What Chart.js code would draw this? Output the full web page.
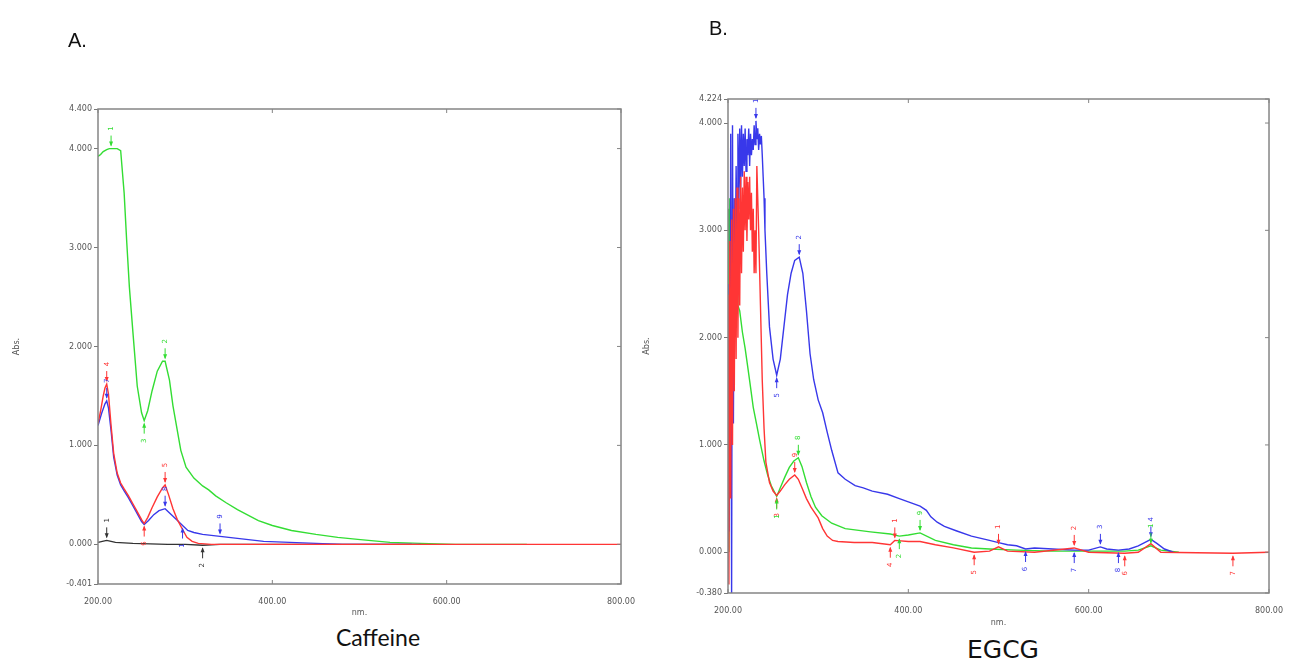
<!DOCTYPE html>
<html>
<head>
<meta charset="utf-8">
<script src="https://cdn.jsdelivr.net/npm/chart.js@4"></script>
<style>
  body { margin: 0; width: 1296px; height: 665px; background: #fff; position: relative; overflow: hidden; }
  #wrapA { position: absolute; left: 0; top: 0; }
  #wrapB { position: absolute; left: 630px; top: 0; }
  .lbl { position: absolute; color: #111; white-space: nowrap; }
</style>
</head>
<body>
<div id="wrapA"><canvas id="chartA" width="648" height="622"></canvas></div>
<div id="wrapB"><canvas id="chartB" width="666" height="632"></canvas></div>
<div class="lbl" style="left:68px;top:29px;font:20px 'Liberation Sans',sans-serif;">A.</div>
<div class="lbl" style="left:709px;top:17px;font:20px 'Liberation Sans',sans-serif;">B.</div>
<div class="lbl" style="left:278px;top:623px;width:200px;text-align:center;font:23px Lato,sans-serif;">Caffeine</div>
<div class="lbl" style="left:903px;top:635px;width:200px;text-align:center;font:25px 'DejaVu Sans',sans-serif;">EGCG</div>
<script>
// axis ticks
const xTicks = [200, 400, 600, 800];
const yTicksA = [-0.401, 0, 1, 2, 3, 4, 4.4];
const yTicksB = [-0.38, 0, 1, 2, 3, 4, 4.224];

// A. Caffeine spectra (nm / Abs.)
const caffGreenNm = [200,203,206,210,213,215,218,222,226,230, 233,236,240,245,250,253,257,262,268,274,
  277,282,286,290,295,301,310,320,327,335, 347,360,384,400,422,450,475,498,535,570, 610,650,692];
const caffGreenAbs = [3.92,3.94,3.97,3.99,4.0,4.0,4.0,4.0,3.98,3.55, 3.05,2.6,2.15,1.6,1.33,1.25,1.35,1.55,1.75,1.85,
  1.85,1.66,1.4,1.2,0.95,0.78,0.67,0.59,0.55,0.49, 0.42,0.35,0.24,0.19,0.14,0.1,0.07,0.05,0.02,0.01, 0.0,0.0,0.0];

const caffRedNm = [200,203,206,208,210,212,215,218,222,226, 230,235,240,245,250,253,257,262,268,274,
  277,281,286,291,297,302,308,315,330,400, 500,600,700,800];
const caffRedAbs = [1.22,1.35,1.5,1.58,1.62,1.52,1.2,0.92,0.72,0.62, 0.56,0.49,0.41,0.33,0.25,0.21,0.27,0.37,0.48,0.57,
  0.6,0.5,0.36,0.25,0.15,0.07,0.03,0.01,0.0,0.0, 0.0,0.0,0.0,0.0];

const caffBlueNm = [200,204,208,210,212,215,218,222,226,230, 235,240,245,250,253,258,264,270,277,283,
  290,297,303,310,320,330,340,350,370,390, 420,450,480,570];
const caffBlueAbs = [1.2,1.32,1.42,1.45,1.38,1.15,0.88,0.7,0.6,0.54, 0.47,0.39,0.31,0.23,0.2,0.24,0.3,0.34,0.36,0.31,
  0.25,0.19,0.14,0.12,0.1,0.09,0.08,0.07,0.05,0.03, 0.02,0.01,0.0,0.0];

const caffBlackNm = [200,205,210,215,220,240,280,300,320,340,400,560];
const caffBlackAbs = [0.02,0.03,0.04,0.03,0.02,0.01,0.0,0.0,-0.01,0.0,0.0,0.0];

// B. EGCG spectra (nm / Abs.)
const egcgBlueNm = [200,201,202,203,204,205,206,207,208,209, 210,211,212,213,214,215,216,217,218,219,
  220,221,222,223,224,225,226,227,228,229, 230,231,232,233,234,235,236,237,238,239,
  240,241,243,246,250,254,258,262,266,270, 274,279,283,287,291,295,300,305,310,315,
  322,330,341,350,360,377,390,400,413,420, 425,432,440,453,470,490,500,510,520,530,
  540,560,584,600,613,620,633,645,655,662, 669,676,684,694];
const egcgBlueAbs = [0.2,2.5,0.8,3.9,-0.38,3.98,1.2,3.3,2.6,3.6, 3.0,3.9,3.2,3.95,3.4,3.98,3.5,3.9,3.6,3.95,
  3.55,3.85,3.7,3.95,3.6,3.9,3.7,3.85,3.75,3.98, 3.8,4.02,3.85,3.95,3.75,3.9,3.8,3.88,3.7,3.5,
  3.3,3.0,2.6,2.1,1.8,1.65,1.8,2.1,2.4,2.6, 2.72,2.75,2.6,2.25,1.85,1.61,1.42,1.3,1.12,0.95,
  0.74,0.68,0.62,0.6,0.57,0.54,0.5,0.47,0.43,0.39, 0.33,0.28,0.24,0.2,0.15,0.11,0.09,0.07,0.06,0.03,
  0.04,0.03,0.02,0.02,0.05,0.03,0.02,0.03,0.06,0.09, 0.12,0.08,0.03,0.0];

const egcgRedNm = [200,201,202,203,204,205,206,207,208,209, 210,211,212,213,214,215,216,217,218,219,
  220,221,222,223,224,225,226,227,228,229, 230,231,232,234,236,238,240,242,246,250,
  254,258,263,268,274,278,282,287,292,300, 305,310,316,322,340,360,380,385,400,413,
  430,450,473,490,500,510,540,584,600,640, 655,669,680,760,800];
const egcgRedAbs = [2.4,-0.3,2.9,0.5,3.1,1.0,3.2,1.5,3.3,1.8, 3.4,2.0,3.3,2.3,3.5,2.6,3.4,2.8,3.55,3.0,
  3.5,2.9,3.45,3.1,3.5,3.0,3.35,2.8,3.2,2.6, 3.0,2.6,3.6,3.0,2.3,1.6,1.15,0.84,0.65,0.57,
  0.53,0.57,0.63,0.68,0.72,0.68,0.6,0.5,0.42,0.32, 0.22,0.15,0.11,0.1,0.09,0.09,0.07,0.11,0.1,0.1,
  0.07,0.04,0.0,0.01,0.05,0.01,0.0,0.04,0.0,-0.01, 0.0,0.08,0.0,-0.01,0.0];

const egcgGreenNm = [200,201,202,203,204,205,206,207,208,209, 210,211,213,216,219,222,224,228,232,235,
  240,244,248,254,258,263,268,273,278,282, 287,292,297,304,315,330,358,380,390,400,
  413,430,450,470,490,520,560,640,655,669, 680,700];
const egcgGreenAbs = [3.2,0.0,3.3,1.0,2.9,1.6,3.0,2.0,2.8,2.2, 2.6,2.3,2.25,2.05,1.9,1.72,1.6,1.35,1.18,1.05,
  0.85,0.72,0.62,0.52,0.6,0.7,0.79,0.85,0.88,0.8, 0.65,0.52,0.42,0.34,0.27,0.22,0.19,0.17,0.15,0.16,
  0.18,0.11,0.07,0.04,0.03,0.02,0.01,0.01,0.02,0.06, 0.02,0.0];

// marked peaks / valleys (nm)
const caffGreenPeaks = [215, 277], caffGreenValleys = [253];
const caffRedPeaks = [210, 277], caffRedValleys = [253];
const caffBluePeaks = [210, 277, 340], caffBlueValleys = [297];
const caffBlackPeaks = [210], caffBlackValleys = [320];
const egcgBluePeaks = [231, 279, 613, 669], egcgBlueValleys = [254, 530, 584, 633];
const egcgRedPeaks = [274, 385, 500, 584], egcgRedValleys = [254, 380, 473, 640, 760];
const egcgGreenPeaks = [278, 413, 669], egcgGreenValleys = [254, 390];

const GREEN = "#33dd33", RED = "#ff3535", BLUE = "#3838ea", BLACK = "#333333";

function toPoints(nm, abs) {
  return nm.map((x, i) => ({ x: x, y: abs[i] }));
}

function lineSet(label, nm, abs, color) {
  return {
    label: label,
    data: toPoints(nm, abs),
    borderColor: color,
    backgroundColor: color,
    borderWidth: 1.4,
    pointRadius: 0,
    tension: 0
  };
}

// peak arrows + rotated numbers, placed through the chart scales
const peakMarks = {
  id: "peakMarks",
  afterDatasetsDraw(chart, args, opts) {
    const ctx = chart.ctx;
    const xs = chart.scales.x, ys = chart.scales.y;
    ctx.save();
    ctx.font = "7px 'DejaVu Sans', sans-serif";
    let n = 1;
    (opts.marks || []).forEach(m => {
      const ds = chart.data.datasets[m.ds];
      m.nm.forEach(nm => {
        const pt = ds.data.find(p => p.x === nm);
        if (!pt) return;
        const px = xs.getPixelForValue(pt.x), py = ys.getPixelForValue(pt.y);
        const s = m.up ? -1 : 1;
        ctx.strokeStyle = ds.borderColor;
        ctx.fillStyle = ds.borderColor;
        ctx.lineWidth = 1;
        ctx.beginPath();
        ctx.moveTo(px, py + s * 3);
        ctx.lineTo(px, py + s * 13);
        ctx.stroke();
        ctx.beginPath();
        ctx.moveTo(px, py + s * 2);
        ctx.lineTo(px - 2, py + s * 7);
        ctx.lineTo(px + 2, py + s * 7);
        ctx.fill();
        ctx.save();
        ctx.translate(px, py + s * 20);
        ctx.rotate(-Math.PI / 2);
        ctx.textAlign = "center";
        ctx.textBaseline = "middle";
        ctx.fillText(String(n % 10 || 1), 0, 0);
        ctx.restore();
        n++;
      });
    });
    ctx.restore();
  }
};

// plot frame with inward ticks on the other sides
const plotFrame = {
  id: "plotFrame",
  afterDraw(chart) {
    const { ctx, chartArea: a } = chart;
    const xs = chart.scales.x, ys = chart.scales.y;
    ctx.save();
    ctx.strokeStyle = "#858585";
    ctx.lineWidth = 1.5;
    ctx.strokeRect(a.left, a.top, a.right - a.left, a.bottom - a.top);
    ctx.lineWidth = 1;
    xs.ticks.forEach(t => {
      const px = xs.getPixelForValue(t.value);
      ctx.beginPath();
      ctx.moveTo(px, a.bottom); ctx.lineTo(px, a.bottom - 4);
      ctx.moveTo(px, a.top); ctx.lineTo(px, a.top + 4);
      ctx.stroke();
    });
    ys.ticks.forEach(t => {
      const py = ys.getPixelForValue(t.value);
      ctx.beginPath();
      ctx.moveTo(a.right, py); ctx.lineTo(a.right - 4, py);
      ctx.stroke();
    });
    ctx.restore();
  }
};

function makeOptions(yTicks, yMin, yMax, yWidth, xHeight, padTop, padRight, marks) {
  return {
    responsive: false,
    animation: false,
    layout: { padding: { top: padTop, right: padRight, left: 0, bottom: 0 } },
    plugins: {
      legend: { display: false },
      tooltip: { enabled: false },
      peakMarks: { marks: marks }
    },
    scales: {
      x: {
        type: "linear",
        min: 200,
        max: 800,
        afterBuildTicks: s => { s.ticks = xTicks.map(v => ({ value: v })); },
        afterFit: s => { s.height = xHeight; },
        grid: { drawOnChartArea: false, drawTicks: false },
        border: { display: false },
        ticks: {
          padding: 13,
          color: "#555",
          font: { size: 8, family: "'DejaVu Sans', sans-serif" },
          maxRotation: 0,
          callback: v => v.toFixed(2)
        },
        title: {
          display: true,
          text: "nm.",
          color: "#555",
          font: { size: 8, family: "'DejaVu Sans', sans-serif" },
          padding: { top: 0, bottom: 4 }
        }
      },
      y: {
        type: "linear",
        min: yMin,
        max: yMax,
        afterBuildTicks: s => { s.ticks = yTicks.map(v => ({ value: v })); },
        afterFit: s => { s.width = yWidth; },
        grid: { drawOnChartArea: false, tickLength: 4, color: "#777" },
        border: { display: false },
        ticks: {
          padding: 2,
          color: "#555",
          font: { size: 8, family: "'DejaVu Sans', sans-serif" },
          callback: v => v.toFixed(3)
        },
        title: {
          display: true,
          text: "Abs.",
          color: "#555",
          font: { size: 8, family: "'DejaVu Sans', sans-serif" },
          padding: { top: 12, bottom: 0 }
        }
      }
    }
  };
}

new Chart(document.getElementById("chartA"), {
  type: "line",
  data: {
    datasets: [
      lineSet("red", caffRedNm, caffRedAbs, RED),
      lineSet("blue", caffBlueNm, caffBlueAbs, BLUE),
      lineSet("black", caffBlackNm, caffBlackAbs, BLACK),
      lineSet("green", caffGreenNm, caffGreenAbs, GREEN)
    ]
  },
  options: makeOptions(yTicksA, -0.401, 4.4, 98, 38, 109, 22, [
    { ds: 3, nm: caffGreenPeaks, up: true }, { ds: 3, nm: caffGreenValleys, up: false },
    { ds: 0, nm: caffRedPeaks, up: true }, { ds: 0, nm: caffRedValleys, up: false },
    { ds: 1, nm: caffBluePeaks, up: true }, { ds: 1, nm: caffBlueValleys, up: false },
    { ds: 2, nm: caffBlackPeaks, up: true }, { ds: 2, nm: caffBlackValleys, up: false }
  ]),
  plugins: [peakMarks, plotFrame]
});

new Chart(document.getElementById("chartB"), {
  type: "line",
  data: {
    datasets: [
      lineSet("red", egcgRedNm, egcgRedAbs, RED),
      lineSet("blue", egcgBlueNm, egcgBlueAbs, BLUE),
      lineSet("green", egcgGreenNm, egcgGreenAbs, GREEN)
    ]
  },
  options: makeOptions(yTicksB, -0.38, 4.224, 98, 39, 99, 19, [
    { ds: 1, nm: egcgBluePeaks, up: true }, { ds: 1, nm: egcgBlueValleys, up: false },
    { ds: 0, nm: egcgRedPeaks, up: true }, { ds: 0, nm: egcgRedValleys, up: false },
    { ds: 2, nm: egcgGreenPeaks, up: true }, { ds: 2, nm: egcgGreenValleys, up: false }
  ]),
  plugins: [peakMarks, plotFrame]
});
</script>
</body>
</html>
